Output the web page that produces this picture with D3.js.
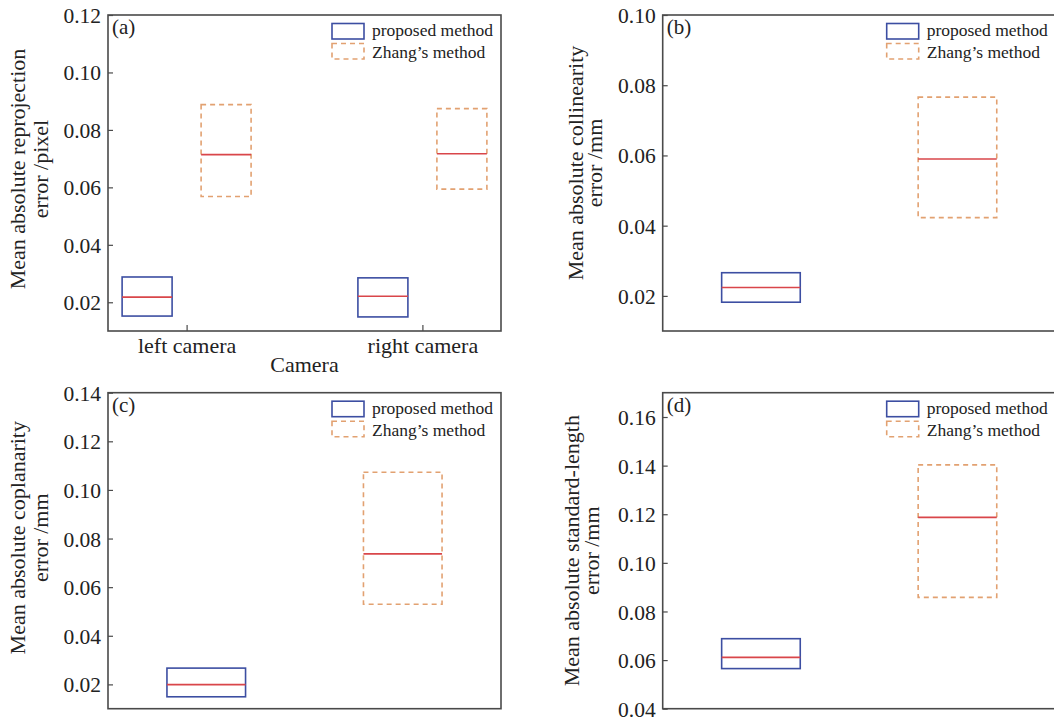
<!DOCTYPE html>
<html>
<head>
<meta charset="utf-8">
<script src="https://cdn.jsdelivr.net/npm/d3@7"></script>
<style>
  body { margin: 0; background: #fff; }
  text { font-family: "Liberation Serif", "Times New Roman", serif; fill: #222; }
</style>
</head>
<body>
<div id="chart"></div>
<script>
// box values are [low edge, median, high edge]
var reprojCategories = ["left camera", "right camera"];
var reprojProposed = [[0.0152, 0.0218, 0.0288], [0.0149, 0.0221, 0.0285]];
var reprojZhang = [[0.0568, 0.0714, 0.0888], [0.0594, 0.0717, 0.0874]];
var reprojTicks = [0.02, 0.04, 0.06, 0.08, 0.10, 0.12];

var singleCategory = ["all"];

var collinProposed = [[0.0182, 0.0224, 0.0266]];
var collinZhang = [[0.0423, 0.0590, 0.0766]];
var collinTicks = [0.02, 0.04, 0.06, 0.08, 0.10];

var coplanProposed = [[0.0149, 0.0199, 0.0267]];
var coplanZhang = [[0.0530, 0.0737, 0.1073]];
var coplanTicks = [0.02, 0.04, 0.06, 0.08, 0.10, 0.12, 0.14];

var lengthProposed = [[0.0565, 0.0611, 0.0688]];
var lengthZhang = [[0.0858, 0.1187, 0.1403]];
var lengthTicks = [0.04, 0.06, 0.08, 0.10, 0.12, 0.14, 0.16];

var legendLabels = ["proposed method", "Zhang\u2019s method"];

var blue = "#3c4ea2", orange = "#e2a171", red = "#d9464a", frame = "#4a4a4a";

var svg = d3.select("#chart")
  .append("svg")
    .attr("width", 1054)
    .attr("height", 719);

var width = 393, height = 316;

function drawPanel(p) {
	var g = svg.append("g")
	  .attr("transform", "translate(" + p.left + "," + p.top + ")");

	var y = d3.scaleLinear()
		.domain(p.yDomain)
		.range([height, 0]);

	var x = d3.scalePoint()
		.domain(p.categories)
		.range([0, width])
		.padding(p.pad);
	var step = p.categories.length > 1 ? x.step() : width;

	// frame
	g.append("rect")
	  .attr("width", width)
	  .attr("height", height)
	  .attr("fill", "none")
	  .attr("stroke", frame)
	  .attr("stroke-width", 1.6);

	// y axis, ticks pointing inside
	var yAxis = g.append("g")
	  .call(d3.axisRight(y).tickValues(p.ticks).tickSize(5).tickFormat(d3.format(".2f")))
	  .call(g => g.select(".domain").remove());
	yAxis.selectAll("line").attr("stroke", frame).attr("stroke-width", 1.2);
	yAxis.selectAll("text")
	  .attr("x", -7)
	  .attr("dy", "0.35em")
	  .style("text-anchor", "end")
	  .style("font-size", "21.5px")
	  .style("font-family", "Liberation Serif, serif")
	  .attr("fill", "#222");

	if (p.showX) {
		var xAxis = g.append("g")
		  .attr("transform", "translate(0," + height + ")")
		  .call(d3.axisTop(x).tickSize(6))
		  .call(g => g.select(".domain").remove());
		xAxis.selectAll("line").attr("stroke", frame).attr("stroke-width", 1.2);
		xAxis.selectAll("text")
		  .attr("y", 22)
		  .attr("dy", 0)
		  .style("font-size", "22px")
		  .style("font-family", "Liberation Serif, serif")
		  .attr("fill", "#222");

		g.append("text")
		  .attr("x", width / 2)
		  .attr("y", height + 41)
		  .style("text-anchor", "middle")
		  .style("font-size", "22px")
		  .text("Camera");
	}

	// y axis label, two lines
	var yt = g.append("text")
	  .attr("transform", "translate(0," + p.titleY + ")rotate(-90)")
	  .style("text-anchor", "middle")
	  .style("font-size", "22px");
	yt.append("tspan").attr("x", 0).attr("y", p.titleX[0] + 5).text(p.title[0]);
	yt.append("tspan").attr("x", 0).attr("y", p.titleX[1] + 5).text(p.title[1]);

	// boxes
	function boxes(values, side, color, dash) {
		var bw = p.boxW * step;
		var cx = function(i) { return x(p.categories[i]) + side * p.offset * step; };
		var grp = g.append("g");
		values.forEach(function(d, i) {
			grp.append("rect")
			  .attr("x", cx(i) - bw / 2)
			  .attr("y", y(d[2]))
			  .attr("width", bw)
			  .attr("height", y(d[0]) - y(d[2]))
			  .attr("fill", "none")
			  .attr("stroke", color)
			  .attr("stroke-width", 1.6)
			  .attr("stroke-dasharray", dash);
			grp.append("line")
			  .attr("x1", cx(i) - bw / 2)
			  .attr("x2", cx(i) + bw / 2)
			  .attr("y1", y(d[1]))
			  .attr("y2", y(d[1]))
			  .attr("stroke", red)
			  .attr("stroke-width", 1.6);
		});
	}
	boxes(p.proposed, -1, blue, null);
	boxes(p.zhang, 1, orange, "5,4");

	// panel letter
	g.append("text")
	  .attr("x", 4)
	  .attr("y", 19)
	  .style("font-size", "21px")
	  .text(p.label);

	// legend
	var leg = g.append("g").attr("transform", "translate(224,0)");
	leg.append("rect")
	  .attr("x", 0).attr("y", 8.5).attr("width", 32).attr("height", 15.5)
	  .attr("fill", "none").attr("stroke", blue).attr("stroke-width", 1.6);
	leg.append("rect")
	  .attr("x", 0).attr("y", 28.5).attr("width", 32).attr("height", 15.5)
	  .attr("fill", "none").attr("stroke", orange).attr("stroke-width", 1.6)
	  .attr("stroke-dasharray", "5,4");
	leg.selectAll("text.leg")
	  .data(legendLabels)
	  .enter()
	  .append("text")
	  .attr("class", "leg")
	  .attr("x", 40)
	  .attr("y", function(d, i) { return 21 + i * 22; })
	  .style("font-size", "17.5px")
	  .text(function(d) { return d; });
}

drawPanel({
	left: 108, top: 15, label: "(a)",
	categories: reprojCategories, pad: 1 / 3, offset: 0.1675, boxW: 0.212, showX: true,
	proposed: reprojProposed, zhang: reprojZhang,
	yDomain: [0.01, 0.12], ticks: reprojTicks,
	title: ["Mean absolute reprojection", "error /pixel"], titleX: [-88, -65], titleY: 154
});

drawPanel({
	left: 662.7, top: 15, label: "(b)",
	categories: singleCategory, pad: 0.5, offset: 0.25, boxW: 0.2, showX: false,
	proposed: collinProposed, zhang: collinZhang,
	yDomain: [0.01, 0.10], ticks: collinTicks,
	title: ["Mean absolute collinearity", "error /mm"], titleX: [-85, -66], titleY: 148
});

drawPanel({
	left: 108, top: 392.7, label: "(c)",
	categories: singleCategory, pad: 0.5, offset: 0.25, boxW: 0.2, showX: false,
	proposed: coplanProposed, zhang: coplanZhang,
	yDomain: [0.01, 0.14], ticks: coplanTicks,
	title: ["Mean absolute coplanarity", "error /mm"], titleX: [-88, -65], titleY: 145
});

drawPanel({
	left: 662.7, top: 392.7, label: "(d)",
	categories: singleCategory, pad: 0.5, offset: 0.25, boxW: 0.2, showX: false,
	proposed: lengthProposed, zhang: lengthZhang,
	yDomain: [0.04, 0.17], ticks: lengthTicks,
	title: ["Mean absolute standard-length", "error /mm"], titleX: [-89, -69], titleY: 158
});
</script>
</body>
</html>
